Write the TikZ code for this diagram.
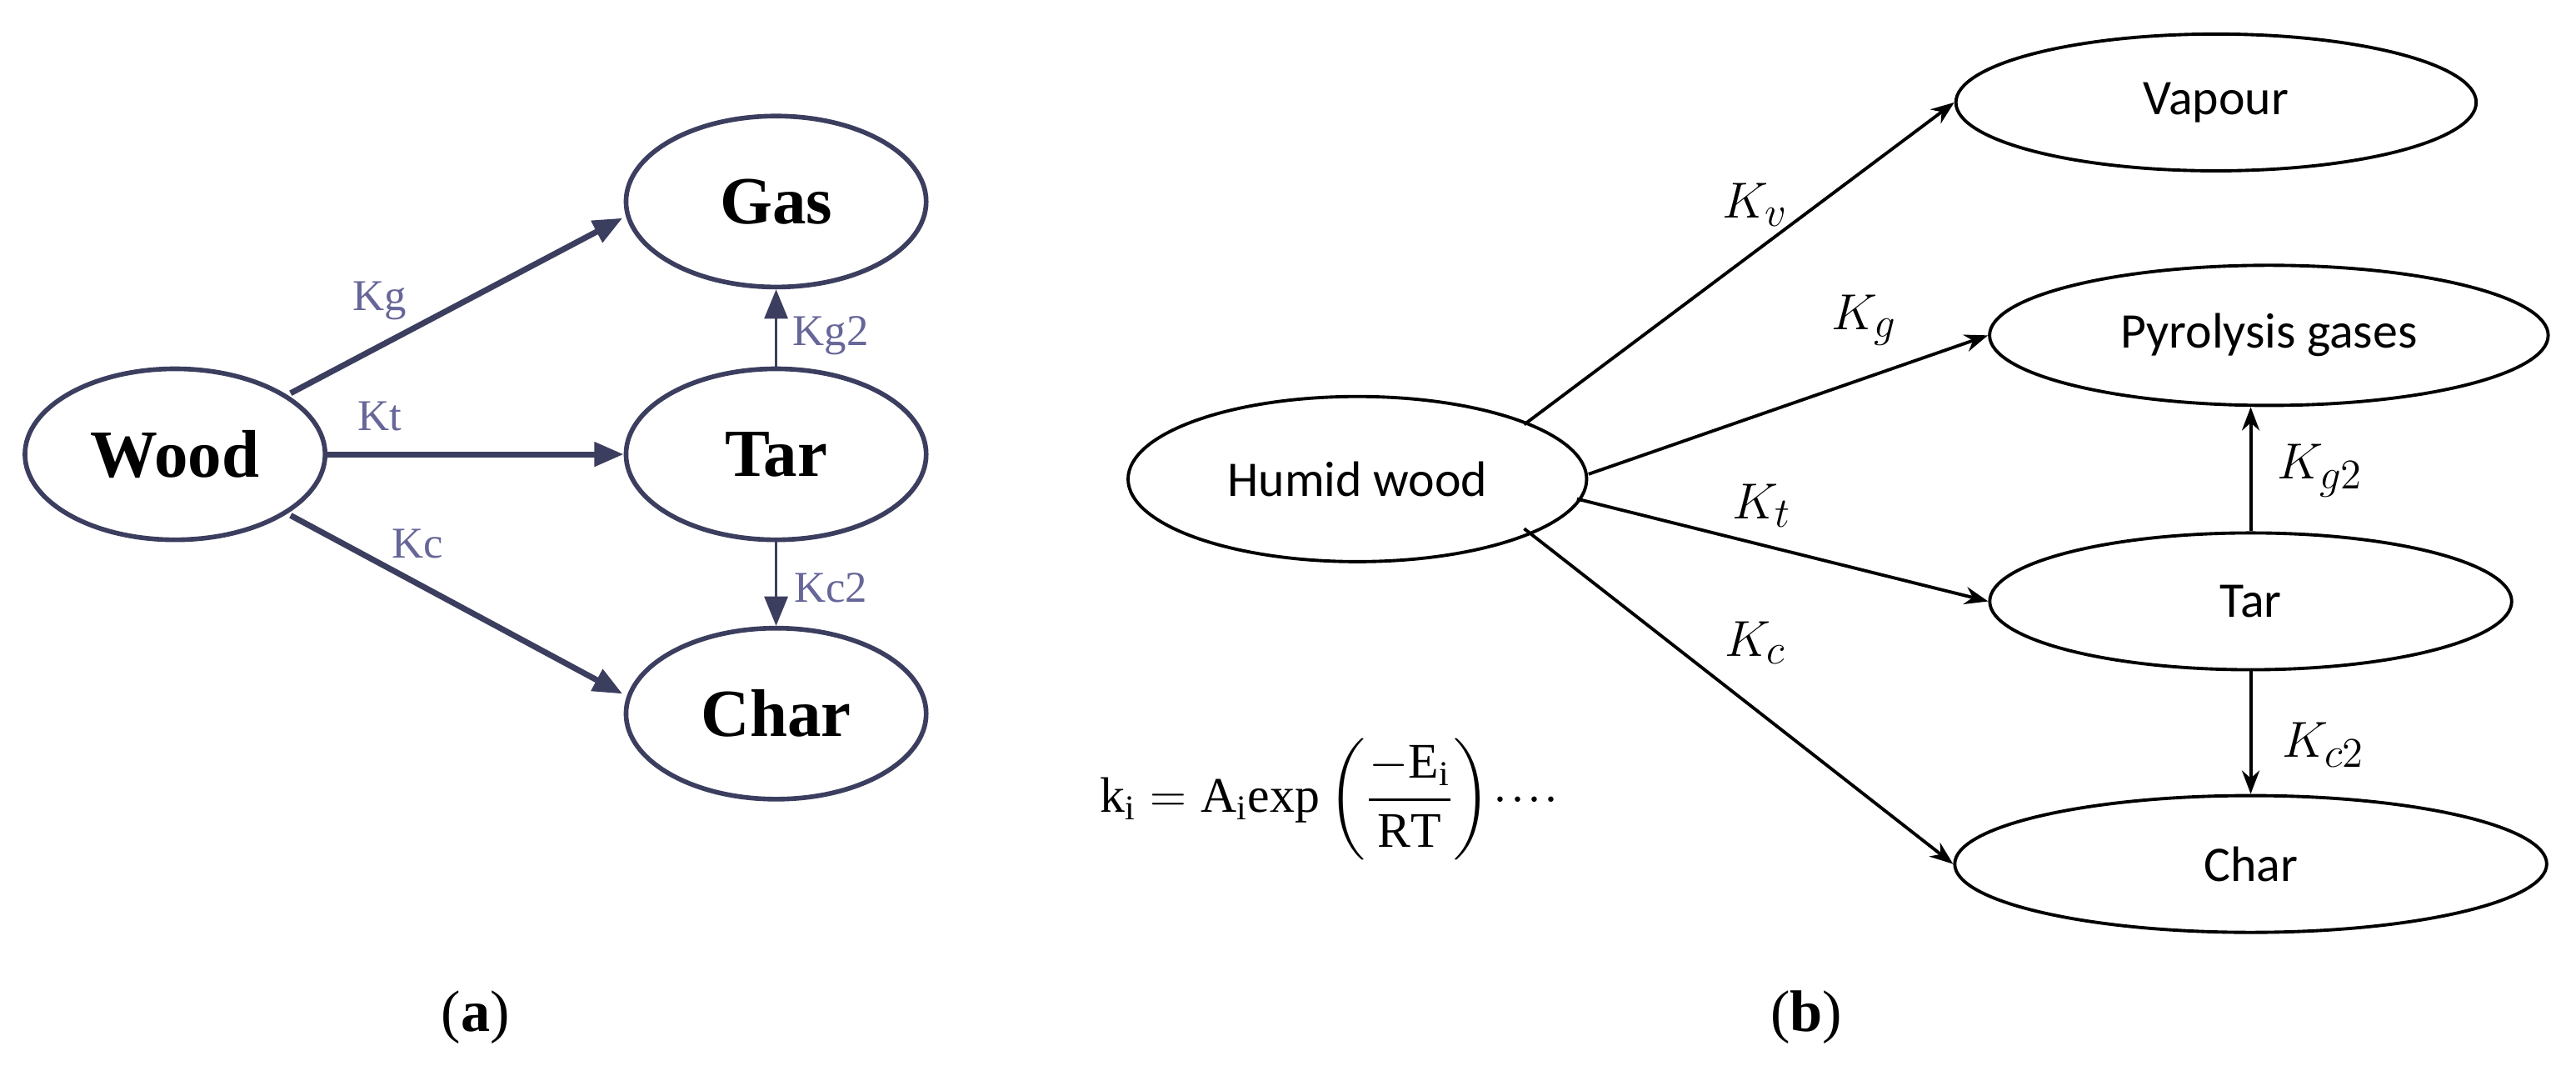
\documentclass[tikz,border=0pt]{standalone}
\usepackage{fontspec}
\usepackage{amsmath}
\setmainfont{Liberation Serif}
\newfontfamily\calib{Carlito}
\usetikzlibrary{shapes.geometric,arrows.meta}
\definecolor{rimblue}{RGB}{60,62,95}
\begin{document}
\begin{tikzpicture}[x=0.0198cm, y=-0.0198cm,
    oldstate/.style={
        ellipse,
        draw=rimblue,
        line width=1.6pt,
        minimum width=3.6cm,
        minimum height=2.05cm,
        font=\fontsize{23}{27}\selectfont\bfseries
    },
    oldrate/.style={
        -{Triangle[length=10pt,width=8pt]},
        draw=rimblue,
        line width=2pt
    },
    oldlabel/.style={
        text=gray!80!blue,
        font=\fontsize{15}{18}\selectfont
    },
    newstate/.style={
        ellipse,
        draw,
        line width=1.1pt,
        minimum width=6.3cm,
        minimum height=1.68cm,
        font=\calib\fontsize{17}{20}\selectfont
    },
    newrate/.style={
        -{Stealth[length=8pt,width=6pt]},
        line width=1.1pt
    },
    newlabel/.style={
        font=\fontsize{19}{22}\selectfont
    }
]
\useasboundingbox (0,0) rectangle (1560,648);

% --- (a) ---
\node[oldstate] (wood) at (106,275) {Wood};
\node[oldstate] (gas) at (470,122) {Gas};
\node[oldstate] (tara) at (470,275) {Tar};
\node[oldstate] (chara) at (470,432) {Char};
\coordinate (woodup) at (176,238);
\coordinate (wooddown) at (176,312);
\coordinate (gasin) at (377,132);
\coordinate (charin) at (377,420);

\draw[oldrate] (woodup) -- (gasin);
\draw[oldrate] (wood) -- (tara);
\draw[oldrate] (wooddown) -- (charin);
\draw[oldrate, line width=0.8pt] (tara) -- (gas);
\draw[oldrate, line width=0.8pt] (tara) -- (chara);

\node[oldlabel] (kga) at (230,182) {Kg};
\node[oldlabel] (kta) at (230,252) {Kt};
\node[oldlabel] (kca) at (253,329) {Kc};
\node[oldlabel] (kg2a) at (503,203) {Kg2};
\node[oldlabel] (kc2a) at (503,356) {Kc2};

% --- (b) ---
\node[newstate, minimum width=5.5cm, minimum height=1.98cm] (humid) at (822,290) {Humid wood};
\node[newstate, minimum width=6.24cm, minimum height=1.64cm] (vapour) at (1342,62) {Vapour};
\node[newstate, minimum width=6.7cm] (pyro) at (1374,203) {Pyrolysis gases};
\node[newstate, minimum width=6.26cm, minimum height=1.64cm] (tarb) at (1363,364) {Tar};
\node[newstate, minimum width=7.1cm, minimum height=1.64cm] (charb) at (1363,523) {Char};
\coordinate (outv) at (923,257);
\coordinate (outg) at (962,287);
\coordinate (outt) at (955,302);
\coordinate (outc) at (923,320);

\draw[newrate] (outv) -- (vapour.west);
\draw[newrate] (outg) -- (pyro.west);
\draw[newrate] (outt) -- (tarb.west);
\draw[newrate] (outc) -- (charb.west);
\draw[newrate] (tarb.north) -- (tarb.north |- pyro.south);
\draw[newrate] (tarb.south) -- (charb.north);

\node[newlabel] (kv) at (1063,124) {$K_v$};
\node[newlabel] (kg) at (1129,194) {$K_g$};
\node[newlabel] (kt) at (1067,306) {$K_t$};
\node[newlabel] (kc) at (1063,389) {$K_c$};
\node[newlabel] (kg2) at (1405,285) {$K_{g2}$};
\node[newlabel] (kc2) at (1407,451) {$K_{c2}$};

\node[font=\fontsize{17}{20}\selectfont] (rate) at (805,484)
    {$\mathrm{k_i}=\mathrm{A_i}\mathrm{exp}\left(\dfrac{-\mathrm{E_i}}{\mathrm{RT}}\right)\!\cdot\!\cdot\!\cdot\!\cdot$};

% --- captions ---
\node[font=\fontsize{20}{24}\selectfont] (capa) at (288,616) {(\textbf{a})};
\node[font=\fontsize{20}{24}\selectfont] (capb) at (1094,616) {(\textbf{b})};
\end{tikzpicture}
\end{document}
